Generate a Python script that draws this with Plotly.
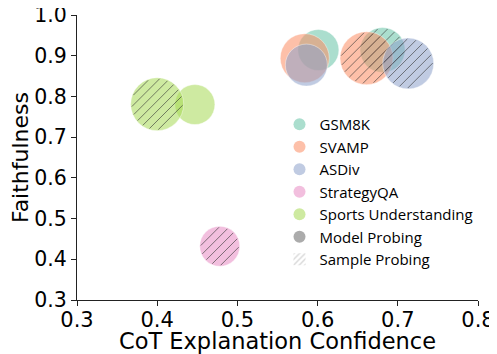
import math
import plotly.graph_objects as go

# ---- data ----
datasets = ["GSM8K", "SVAMP", "ASDiv", "StrategyQA", "Sports Understanding"]
colors = ["#66c2a5", "#fc8d62", "#8da0cb", "#e78ac3", "#a6d854"]
# model probing (None = not shown)
model_conf = [0.601, 0.584, 0.586, None, 0.447]
model_faith = [0.914, 0.894, 0.877, None, 0.780]
model_size = [41, 49, 42, None, 40]
# sample probing
sample_conf = [0.681, 0.661, 0.713, 0.478, 0.400]
sample_faith = [0.914, 0.894, 0.881, 0.432, 0.781]
sample_size = [45, 53, 51, 40, 53]

x_ticks = [0.3, 0.4, 0.5, 0.6, 0.7, 0.8]
y_ticks = [0.3, 0.4, 0.5, 0.6, 0.7, 0.8, 0.9, 1.0]

# page body has an 8px margin, so the figure is drawn at (8, 8)
OFF = 8
W, H = 497 - OFF, 354 - OFF
ML, MR, MT, MB = 77 - OFF, 19, 15 - OFF, 54
XR = (0.3, 0.8)
YR = (0.3, 1.0)
PW = W - ML - MR
PH = H - MT - MB
sx = PW / (XR[1] - XR[0])
sy = PH / (YR[1] - YR[0])


def rgba(hexc, a):
    h = hexc.lstrip("#")
    return "rgba(%d,%d,%d,%.2f)" % (int(h[0:2], 16), int(h[2:4], 16), int(h[4:6], 16), a)


def hatch(cx, cy, diam, spacing=7.0):
    px = (cx - XR[0]) * sx
    py = (cy - YR[0]) * sy
    r = diam / 2.0 - 1.0
    d = spacing * math.sqrt(2)
    c0 = py - px
    xs, ys = [], []
    kmin = math.floor((c0 - r * math.sqrt(2)) / d)
    kmax = math.ceil((c0 + r * math.sqrt(2)) / d)
    for k in range(kmin, kmax + 1):
        c = k * d
        delta = (c - c0) / math.sqrt(2)
        if abs(delta) >= r * 0.97:
            continue
        fx = px - delta / math.sqrt(2)
        fy = py + delta / math.sqrt(2)
        hh = math.sqrt(r * r - delta * delta)
        for sgn in (-1, 1):
            ex = fx + sgn * hh / math.sqrt(2)
            ey = fy + sgn * hh / math.sqrt(2)
            xs.append(ex / sx + XR[0])
            ys.append(ey / sy + YR[0])
        xs.append(None)
        ys.append(None)
    return xs, ys


fig = go.Figure()

for i, name in enumerate(datasets):
    col = colors[i]
    if model_conf[i] is not None:
        fig.add_trace(go.Scatter(
            x=[model_conf[i]], y=[model_faith[i]], mode="markers",
            marker=dict(size=model_size[i], color=rgba(col, 0.55),
                        line=dict(width=1, color="rgba(255,255,255,0.4)")),
            showlegend=False, hoverinfo="skip"))
    fig.add_trace(go.Scatter(
        x=[sample_conf[i]], y=[sample_faith[i]], mode="markers",
        marker=dict(size=sample_size[i], color=rgba(col, 0.55),
                    line=dict(width=1, color="rgba(255,255,255,0.4)")),
        showlegend=False, hoverinfo="skip"))
    hx, hy = hatch(sample_conf[i], sample_faith[i], sample_size[i])
    fig.add_trace(go.Scatter(
        x=hx, y=hy, mode="lines",
        line=dict(color="rgba(50,50,50,0.6)", width=1),
        showlegend=False, hoverinfo="skip"))

# legend entries
for i, name in enumerate(datasets):
    fig.add_trace(go.Scatter(
        x=[None], y=[None], mode="markers", name=name,
        marker=dict(size=12, color=rgba(colors[i], 0.55))))
fig.add_trace(go.Scatter(
    x=[None], y=[None], mode="markers", name="Model Probing",
    marker=dict(size=12, color="rgba(150,150,150,0.8)")))
fig.add_trace(go.Bar(
    x=[None], y=[None], name="Sample Probing",
    marker=dict(color="rgba(255,255,255,0)", line=dict(width=0),
                pattern=dict(shape="/", fgcolor="#b0b0b0", size=5, solidity=0.35))))

fig.update_layout(
    width=W, height=H,
    margin=dict(l=ML, r=MR, t=MT, b=MB),
    paper_bgcolor="white", plot_bgcolor="white",
    font=dict(family="DejaVu Sans", color="black"),
    showlegend=True,
    legend=dict(x=0.505, y=0.674, xanchor="left", yanchor="top",
                font=dict(family="Open Sans", size=15, color="black"),
                bgcolor="rgba(0,0,0,0)", itemwidth=30, tracegroupgap=0),
    xaxis=dict(range=list(XR), tickvals=x_ticks, ticktext=["%.1f" % v for v in x_ticks],
               showgrid=False, zeroline=False, showline=True, linecolor="#222", linewidth=1,
               ticks="outside", ticklen=5, tickcolor="#222", tickfont=dict(size=21),
               automargin=False, ticklabeloverflow="allow", ticklabelstandoff=-4,
               title=dict(text="CoT Explanation Confidence", font=dict(size=22.5), standoff=0)),
    yaxis=dict(range=list(YR), tickvals=y_ticks, ticktext=["%.1f" % v for v in y_ticks],
               showgrid=False, zeroline=False, showline=True, linecolor="#222", linewidth=1,
               ticks="outside", ticklen=5, tickcolor="#222", tickfont=dict(size=20.5),
               automargin=False, ticklabeloverflow="allow",
               title=dict(text="Faithfulness", font=dict(size=22), standoff=2)),
)

fig.write_html("out.html")
